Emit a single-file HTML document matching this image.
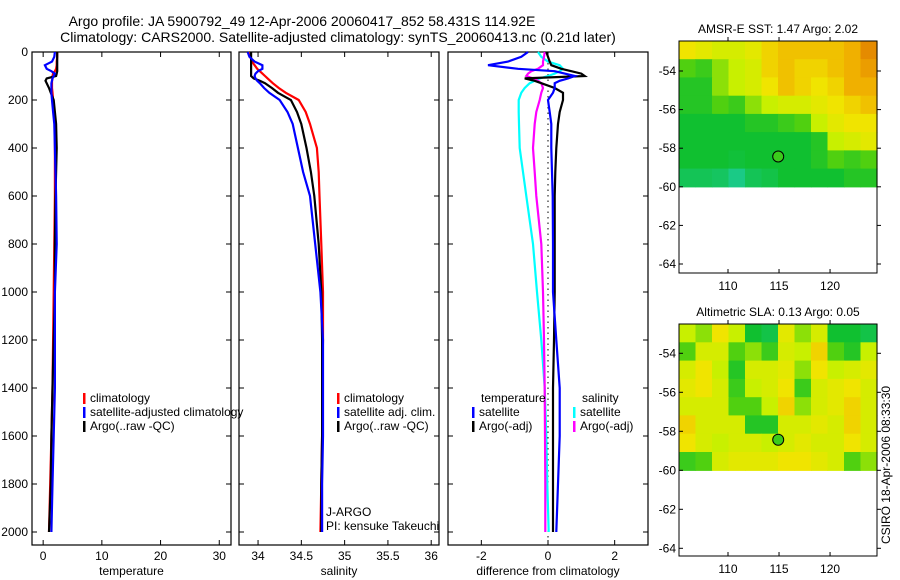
<!DOCTYPE html>
<html><head><meta charset="utf-8">
<style>
html,body{margin:0;padding:0;background:#fff;}
svg{display:block;font-family:"Liberation Sans",sans-serif;}
text{fill:#000;}
</style></head>
<body>
<svg id="fig" width="900" height="580" viewBox="0 0 900 580" xmlns="http://www.w3.org/2000/svg">
<text x="302" y="26" font-size="14" text-anchor="middle">Argo profile: JA 5900792_49 12-Apr-2006 20060417_852 58.431S 114.92E</text>
<text x="338" y="42" font-size="14" text-anchor="middle">Climatology: CARS2000. Satellite-adjusted climatology: synTS_20060413.nc (0.21d later)</text>
<g id="layer"></g>
</svg>
<script>
// ---- profile data ----
const depths = [0,20,40,55,70,80,90,100,110,120,130,150,170,200,250,300,400,500,600,800,1000,1200,1400,1600,1800,2000];
const tempClim = [2.4,2.4,2.3,2.3,2.2,2.0,1.7,1.6,1.6,1.5,1.5,1.5,1.6,1.7,1.9,2.0,2.0,2.0,2.0,1.9,1.8,1.7,1.6,1.4,1.2,1.0];
const tempSat  = [2.0,1.9,1.5,0.3,0.6,1.4,2.0,1.8,1.6,1.5,1.4,1.4,1.4,1.5,1.7,1.9,2.0,2.1,2.2,2.3,2.0,2.0,2.0,1.8,1.6,1.4];
const tempArgo = [2.4,2.4,2.4,2.4,2.4,2.4,2.3,2.2,0.6,0.4,0.6,1.0,1.3,1.8,2.0,2.2,2.3,2.2,2.1,2.0,2.0,1.8,1.6,1.4,1.3,1.0];
const salClim = [33.91,33.91,33.93,33.96,33.99,34.02,34.05,34.08,34.11,34.14,34.17,34.24,34.32,34.47,34.55,34.6,34.68,34.7,34.71,34.73,34.75,34.75,34.74,34.74,34.73,34.72];
const salArgo = [33.92,33.92,33.92,33.92,33.92,33.92,33.92,33.92,33.95,34.02,34.08,34.16,34.23,34.38,34.45,34.5,34.56,34.61,34.65,34.70,34.73,34.74,34.74,34.74,34.73,34.73];
const salSat  = [33.88,33.9,33.96,34.05,34.05,34.0,33.97,33.96,33.97,33.99,34.02,34.07,34.13,34.25,34.34,34.4,34.46,34.52,34.6,34.66,34.72,34.75,34.75,34.75,34.74,34.74];
const diffTempSat  = [-0.6,-0.8,-1.2,-1.8,-0.9,0.2,0.5,0.8,0.6,0.35,0.2,0.2,0.15,0.0,0.05,0.1,0.1,0.12,0.14,0.15,0.15,0.25,0.35,0.35,0.3,0.25];
const diffTempArgo = [-0.05,0.0,0.05,0.1,0.4,0.7,1.0,1.1,-0.7,-0.4,-0.2,0.2,0.45,0.45,0.35,0.3,0.25,0.22,0.2,0.2,0.2,0.18,0.15,0.15,0.15,0.15];
const diffSalSat   = [-0.3,-0.2,0.0,0.35,0.45,0.35,0.2,0.0,-0.25,-0.4,-0.55,-0.7,-0.8,-0.88,-0.88,-0.87,-0.85,-0.75,-0.65,-0.45,-0.33,-0.2,-0.1,-0.05,-0.02,0.02];
const diffSalArgo  = [-0.1,-0.12,-0.15,-0.15,-0.3,-0.5,-0.6,-0.65,-0.45,-0.3,-0.2,-0.15,-0.2,-0.25,-0.35,-0.4,-0.45,-0.4,-0.35,-0.2,-0.15,-0.12,-0.1,-0.09,-0.08,-0.08];
const depthTicks = [0,200,400,600,800,1000,1200,1400,1600,1800,2000];
const tempTicks = [0,10,20,30];
const salTicks = [34,34.5,35,35.5,36];
const salTickLabels = ["34","34.5","35","35.5","36"];
const diffTicks = [-2,0,2];
// ---- map data (0..1 colour index), rows north->south ----
const sstGrid = [
[0.7,0.65,0.6,0.6,0.65,0.75,0.8,0.8,0.8,0.8,0.85,0.95],
[0.45,0.4,0.5,0.55,0.6,0.75,0.8,0.75,0.75,0.8,0.85,0.9],
[0.35,0.35,0.5,0.55,0.6,0.7,0.8,0.75,0.7,0.75,0.85,0.85],
[0.35,0.35,0.45,0.4,0.5,0.55,0.6,0.6,0.65,0.7,0.75,0.8],
[0.3,0.3,0.3,0.3,0.35,0.35,0.4,0.45,0.55,0.65,0.7,0.7],
[0.3,0.3,0.3,0.3,0.3,0.3,0.3,0.3,0.35,0.55,0.6,0.65],
[0.3,0.3,0.3,0.28,0.3,0.3,0.3,0.3,0.35,0.45,0.4,0.45],
[0.22,0.22,0.2,0.12,0.22,0.25,0.3,0.3,0.3,0.3,0.35,0.35]];
const slaGrid = [
[0.55,0.5,0.7,0.55,0.3,0.25,0.65,0.5,0.6,0.3,0.3,0.25],
[0.45,0.6,0.6,0.45,0.5,0.4,0.6,0.55,0.75,0.45,0.35,0.55],
[0.6,0.7,0.55,0.35,0.6,0.6,0.65,0.5,0.7,0.55,0.6,0.65],
[0.65,0.7,0.6,0.4,0.55,0.6,0.7,0.4,0.6,0.65,0.7,0.6],
[0.6,0.6,0.6,0.45,0.45,0.55,0.75,0.5,0.6,0.65,0.75,0.6],
[0.75,0.6,0.6,0.6,0.35,0.35,0.6,0.6,0.65,0.6,0.75,0.6],
[0.7,0.6,0.55,0.6,0.6,0.55,0.6,0.65,0.6,0.6,0.7,0.6],
[0.4,0.45,0.6,0.65,0.65,0.65,0.7,0.7,0.65,0.6,0.45,0.5]];
const latTicks = [-54,-56,-58,-60,-62,-64];
const lonTicks = [110,115,120];
const floatLon = 114.92, floatLat = -58.431;

const NS = "http://www.w3.org/2000/svg";
const layer = document.getElementById('layer');
function mk(tag, attrs, parent){const e=document.createElementNS(NS,tag);for(const k in attrs)e.setAttribute(k,attrs[k]);(parent||layer).appendChild(e);return e;}

const yTop=52, yBot=532, plotTop=52, plotBot=545;
const yD = d => yTop + (d/2000)*(yBot-yTop);

function panel(name, x0, x1, vmin, vmax, ticks, tlabels, xlabel, showDepth){
  const g = mk('g',{});
  
  
  const xs = v => x0 + (v-vmin)/(vmax-vmin)*(x1-x0);
  const r = mk('rect',{x:x0,y:plotTop,width:x1-x0,height:plotBot-plotTop,fill:'none',stroke:'#000','stroke-width':1.2},g);
  
  
  ticks.forEach((t,i)=>{
    const x=xs(t);
    mk('line',{x1:x,x2:x,y1:plotBot,y2:plotBot-5,stroke:'#000'},g);
    mk('line',{x1:x,x2:x,y1:plotTop,y2:plotTop+5,stroke:'#000'},g);
    const tl=mk('text',{x:x,y:560,'font-size':12,'text-anchor':'middle'},g);
    tl.textContent=tlabels[i];
    
    
  });
  depthTicks.forEach(d=>{
    const y=yD(d);
    mk('line',{x1:x0,x2:x0+5,y1:y,y2:y,stroke:'#000'},g);
    mk('line',{x1:x1,x2:x1-5,y1:y,y2:y,stroke:'#000'},g);
    if(showDepth){
      const tl=mk('text',{x:x0-4,y:y+4,'font-size':12,'text-anchor':'end'},g);
      tl.textContent=String(d);
      
      
    }
  });
  const xl=mk('text',{x:(x0+x1)/2,y:575,'font-size':12,'text-anchor':'middle'},g);
  xl.textContent=xlabel;
  
  
  return {g,xs};
}
function series(p, vals, color, nm){
  const pts = vals.map((v,i)=>p.xs(v).toFixed(1)+','+yD(depths[i]).toFixed(1)).join(' ');
  const l=mk('polyline',{points:pts,fill:'none',stroke:color,'stroke-width':2.2,'stroke-linejoin':'miter'},p.g);
  
  
}
function legend(g, x, y, color, label, nm){
  if(color){ mk('rect',{x:x,y:y-9,width:2.5,height:11,fill:color},g); }
  const t=mk('text',{x:x+7,y:y,'font-size':12},g);
  t.textContent=label;
  
  
}

// panel 1
const p1 = panel('temperature-panel',32,231,-1.9,32,tempTicks,tempTicks.map(String),'temperature',true);
series(p1,tempClim,'#ff0000','temp-climatology-line');
series(p1,tempArgo,'#000000','temp-argo-line');
series(p1,tempSat,'#0000ff','temp-satellite-line');
legend(p1.g,83,402,'#ff0000','climatology','legend-climatology');
legend(p1.g,83,416,'#0000ff','satellite-adjusted climatology','legend-satellite-adjusted');
legend(p1.g,83,430,'#000000','Argo(..raw -QC)','legend-argo');

// panel 2
const p2 = panel('salinity-panel',239,439,33.78,36.09,salTicks,salTickLabels,'salinity',false);
series(p2,salClim,'#ff0000','sal-climatology-line');
series(p2,salArgo,'#000000','sal-argo-line');
series(p2,salSat,'#0000ff','sal-satellite-line');
legend(p2.g,337,402,'#ff0000','climatology','legend-sal-climatology');
legend(p2.g,337,416,'#0000ff','satellite adj. clim.','legend-sal-satellite');
legend(p2.g,337,430,'#000000','Argo(..raw -QC)','legend-sal-argo');
legend(p2.g,319,516,null,'J-ARGO','j-argo-label');
legend(p2.g,319,530,null,'PI: kensuke Takeuchi','pi-label');

// panel 3
const p3 = panel('difference-panel',448,648,-3,3,diffTicks,diffTicks.map(String),'difference from climatology',false);
mk('line',{x1:p3.xs(0),x2:p3.xs(0),y1:plotTop,y2:plotBot,stroke:'#000','stroke-dasharray':'1.5,4'},p3.g);
series(p3,diffSalSat,'#00ffff','diff-sal-satellite-line');
series(p3,diffSalArgo,'#ff00ff','diff-sal-argo-line');
series(p3,diffTempArgo,'#000000','diff-temp-argo-line');
series(p3,diffTempSat,'#0000ff','diff-temp-satellite-line');
legend(p3.g,474,402,null,'temperature','legend-temperature-header');
legend(p3.g,472,416,'#0000ff','satellite','legend-temp-satellite');
legend(p3.g,472,430,'#000000','Argo(-adj)','legend-temp-argo');
legend(p3.g,575,402,null,'salinity','legend-salinity-header');
legend(p3.g,573,416,'#00ffff','satellite','legend-sal-satellite-diff');
legend(p3.g,573,430,'#ff00ff','Argo(-adj)','legend-sal-argo-diff');

// colormap
const cstops=[[0,[32,208,192]],[0.3,[16,192,48]],[0.45,[80,208,16]],[0.55,[200,240,0]],[0.7,[240,228,0]],[0.85,[240,176,0]],[1,[224,120,0]]];
function cmap(v){for(let i=1;i<cstops.length;i++){if(v<=cstops[i][0]){const a=cstops[i-1],b=cstops[i];const f=(v-a[0])/(b[0]-a[0]);return 'rgb('+a[1].map((c,k)=>Math.round(c+f*(b[1][k]-c))).join(',')+')';}}return 'rgb(224,120,0)';}

function mapPanel(name, top, bot, latAt54, latAt64, grid, title){
  const g=mk('g',{});
  
  
  const x0=679,x1=877,lon0=105.2,lon1=124.6;
  const xs=lo=>x0+(lo-lon0)/(lon1-lon0)*(x1-x0);
  const ys=la=>latAt54+(la+54)/(-10)*(latAt64-latAt54);
  const latN=-54+(top-latAt54)/(latAt64-latAt54)*(-10);
  const rows=grid.length, cols=grid[0].length;
  const dLat=(latN-(-60))/rows, dLon=(lon1-lon0)/cols;
  grid.forEach((row,r)=>row.forEach((v,c)=>{
    const xa=xs(lon0+c*dLon), xb=xs(lon0+(c+1)*dLon);
    const ya=ys(latN-r*dLat), yb=ys(latN-(r+1)*dLat);
    const cell=mk('rect',{x:xa.toFixed(1),y:ya.toFixed(1),width:(xb-xa+0.6).toFixed(1),height:(yb-ya+0.6).toFixed(1),fill:cmap(v)},g);
    
    
  }));
  mk('rect',{x:x0,y:top,width:x1-x0,height:bot-top,fill:'none',stroke:'#000','stroke-width':1},g);
  latTicks.forEach(la=>{const y=ys(la);
    mk('line',{x1:x0,x2:x0+4,y1:y,y2:y,stroke:'#000'},g);
    mk('line',{x1:x1,x2:x1+4,y1:y,y2:y,stroke:'#000'},g);
    const t=mk('text',{x:x0-3,y:y+4,'font-size':12,'text-anchor':'end'},g);t.textContent=String(la);
    
    
  });
  lonTicks.forEach(lo=>{const x=xs(lo);
    mk('line',{x1:x,x2:x,y1:bot,y2:bot-4,stroke:'#000'},g);
    mk('line',{x1:x,x2:x,y1:top,y2:top-4,stroke:'#000'},g);
    const t=mk('text',{x:x,y:bot+17,'font-size':12,'text-anchor':'middle'},g);t.textContent=String(lo);
    
    
  });
  const c=mk('circle',{cx:xs(floatLon),cy:ys(floatLat),r:5.5,fill:cmap(0.4),stroke:'#000','stroke-width':1},g);
  
  
  const tt=mk('text',{x:(x0+x1)/2,y:top-8,'font-size':12,'text-anchor':'middle'},g);tt.textContent=title;
  
  
}
mapPanel('sst-map',41,273,71,264,sstGrid,'AMSR-E SST: 1.47 Argo: 2.02');
mapPanel('sla-map',324,556,353.3,548.3,slaGrid,'Altimetric SLA: 0.13 Argo: 0.05');
const cs=mk('text',{x:0,y:0,'font-size':12,'text-anchor':'middle',transform:'translate(890,465) rotate(-90)'});
cs.textContent='CSIRO 18-Apr-2006 08:33:30';


</script>
</body></html>
